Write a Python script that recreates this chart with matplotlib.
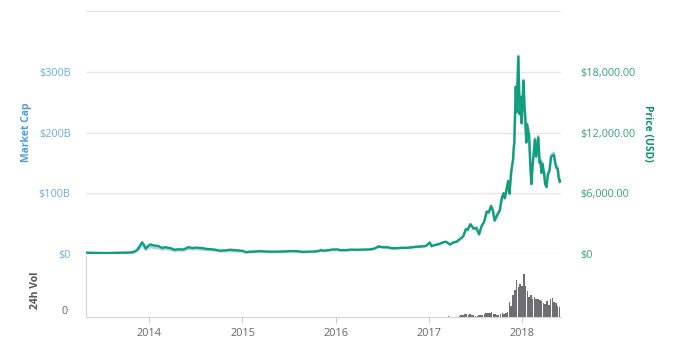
import numpy as np
import pandas as pd
import matplotlib.pyplot as plt
import matplotlib.dates as mdates

plt.rcParams['font.family'] = ['Open Sans', 'DejaVu Sans']

# Цена BTC (USD) и рыночная капитализация (млрд USD)
price_dates = [
    '2013-04-28', '2013-05-15', '2013-06-15', '2013-07-15', '2013-08-15', '2013-09-15',
    '2013-10-15', '2013-11-01', '2013-11-15', '2013-11-25', '2013-12-04', '2013-12-10',
    '2013-12-18', '2013-12-26', '2014-01-05', '2014-01-20', '2014-02-05', '2014-02-20',
    '2014-03-05', '2014-03-25', '2014-04-10', '2014-04-25', '2014-05-15', '2014-06-03',
    '2014-06-20', '2014-07-05', '2014-07-25', '2014-08-15', '2014-09-01', '2014-09-20',
    '2014-10-05', '2014-10-25', '2014-11-12', '2014-11-30', '2014-12-15', '2015-01-01',
    '2015-01-15', '2015-02-01', '2015-02-20', '2015-03-10', '2015-03-30', '2015-04-20',
    '2015-05-15', '2015-06-15', '2015-07-10', '2015-08-01', '2015-08-25', '2015-09-15',
    '2015-10-10', '2015-10-30', '2015-11-04', '2015-11-12', '2015-12-01', '2015-12-20',
    '2016-01-10', '2016-01-20', '2016-02-10', '2016-03-01', '2016-03-25', '2016-04-20',
    '2016-05-15', '2016-06-01', '2016-06-17', '2016-07-01', '2016-07-25', '2016-08-05',
    '2016-08-25', '2016-09-15', '2016-10-05', '2016-10-25', '2016-11-10', '2016-11-30',
    '2016-12-20', '2017-01-04', '2017-01-11', '2017-01-25', '2017-02-10', '2017-02-28',
    '2017-03-10', '2017-03-24', '2017-04-05', '2017-04-20', '2017-05-05', '2017-05-15',
    '2017-05-25', '2017-06-01', '2017-06-12', '2017-06-25', '2017-07-05', '2017-07-16',
    '2017-07-25', '2017-08-05', '2017-08-15', '2017-08-23', '2017-09-01', '2017-09-08',
    '2017-09-15', '2017-09-25', '2017-10-05', '2017-10-13', '2017-10-20', '2017-10-25',
    '2017-11-07', '2017-11-12', '2017-11-19', '2017-11-26', '2017-11-29', '2017-12-01',
    '2017-12-07', '2017-12-10', '2017-12-17', '2017-12-22', '2017-12-27', '2017-12-30',
    '2018-01-06', '2018-01-10', '2018-01-12', '2018-01-17', '2018-01-20', '2018-01-28',
    '2018-02-01', '2018-02-06', '2018-02-10', '2018-02-16', '2018-02-20', '2018-02-25',
    '2018-03-05', '2018-03-10', '2018-03-13', '2018-03-18', '2018-03-21', '2018-03-28',
    '2018-04-01', '2018-04-06', '2018-04-12', '2018-04-18', '2018-04-24', '2018-05-05',
    '2018-05-10', '2018-05-15', '2018-05-20', '2018-05-24', '2018-05-28', '2018-06-01',
]
price_usd = [
    135, 115, 100, 95, 110, 125,
    145, 200, 420, 800, 1150, 950,
    550, 750, 950, 830, 800, 600,
    670, 580, 420, 470, 450, 670,
    590, 630, 590, 500, 475, 410,
    330, 350, 420, 380, 340, 315,
    180, 230, 245, 290, 250, 225,
    240, 250, 290, 280, 210, 230,
    245, 320, 400, 320, 370, 440,
    450, 380, 380, 430, 415, 440,
    455, 540, 750, 680, 655, 580,
    575, 610, 610, 655, 715, 740,
    800, 1130, 780, 900, 990, 1190,
    1200, 940, 1130, 1230, 1550, 1750,
    2450, 2400, 2950, 2500, 2600, 1950,
    2700, 3200, 4200, 4100, 4750, 4300,
    3300, 3850, 4300, 5500, 6000, 5500,
    7200, 5950, 8100, 9300, 10500, 10900,
    16500, 14000, 19500, 13800, 15500, 12900,
    17100, 14500, 13900, 11000, 12800, 11700,
    9200, 6900, 8500, 10200, 11300, 9600,
    11500, 9000, 9200, 8000, 8900, 7900,
    6900, 6600, 7900, 8200, 9600, 9800,
    9000, 8500, 8400, 7500, 7100, 7200,
]
mcap_bn = [
    1.5, 1.3, 1.1, 1.1, 1.3, 1.5,
    1.7, 2.4, 5.0, 9.6, 13.9, 11.5,
    6.7, 9.1, 11.6, 10.1, 9.8, 7.4,
    8.3, 7.2, 5.2, 5.9, 5.7, 8.6,
    7.6, 8.1, 7.6, 6.5, 6.2, 5.4,
    4.4, 4.7, 5.6, 5.1, 4.6, 4.3,
    2.5, 3.2, 3.4, 4.0, 3.5, 3.2,
    3.4, 3.6, 4.2, 4.0, 3.0, 3.4,
    3.6, 4.7, 5.9, 4.7, 5.5, 6.6,
    6.8, 5.7, 5.8, 6.6, 6.4, 6.8,
    7.1, 8.4, 11.7, 10.7, 10.3, 9.1,
    9.1, 9.7, 9.7, 10.5, 11.5, 11.9,
    12.8, 18.2, 12.6, 14.5, 16.0, 19.2,
    19.4, 15.2, 18.4, 20.0, 25.3, 28.6,
    40.0, 39.2, 48.4, 41.0, 42.8, 32.1,
    44.5, 52.8, 69.4, 67.8, 78.7, 71.3,
    54.8, 64.0, 71.6, 91.7, 100.1, 91.8,
    120.3, 99.4, 135.4, 155.6, 175.7, 182.4,
    276.4, 234.6, 326.6, 231.2, 259.8, 216.3,
    287.0, 243.4, 233.4, 184.8, 215.1, 196.7,
    154.8, 116.2, 143.2, 171.9, 190.5, 161.9,
    194.2, 152.0, 155.5, 135.3, 150.6, 133.8,
    117.0, 112.0, 134.2, 139.3, 163.2, 166.8,
    153.3, 144.8, 143.2, 127.9, 121.1, 123.0,
]

# Объём торгов за 24ч (млрд USD), недельные отсчёты
vol_dates = [
    '2017-03-19', '2017-04-30', '2017-05-07', '2017-05-14', '2017-05-21', '2017-05-28',
    '2017-06-04', '2017-06-11', '2017-06-18', '2017-06-25', '2017-07-02', '2017-07-09',
    '2017-07-16', '2017-07-23', '2017-07-30', '2017-08-06', '2017-08-13', '2017-08-20',
    '2017-08-27', '2017-09-03', '2017-09-10', '2017-09-17', '2017-09-24', '2017-10-01',
    '2017-10-08', '2017-10-15', '2017-10-22', '2017-10-29', '2017-11-05', '2017-11-12',
    '2017-11-19', '2017-11-26', '2017-12-03', '2017-12-10', '2017-12-17', '2017-12-24',
    '2017-12-31', '2018-01-07', '2018-01-14', '2018-01-21', '2018-01-28', '2018-02-04',
    '2018-02-11', '2018-02-18', '2018-02-25', '2018-03-04', '2018-03-11', '2018-03-18',
    '2018-03-25', '2018-04-01', '2018-04-08', '2018-04-15', '2018-04-22', '2018-04-29',
    '2018-05-06', '2018-05-13', '2018-05-20', '2018-05-27',
]
vol_bn = [
    0.5, 0.4, 1.0, 1.3, 1.6, 1.4,
    1.2, 1.5, 1.2, 0.9, 0.8, 0.7,
    0.9, 1.0, 1.1, 1.5, 2.3, 2.0,
    2.2, 2.5, 1.6, 1.4, 1.0, 1.2,
    1.6, 2.0, 1.8, 2.2, 2.6, 8.0,
    6.0, 12.0, 14.5, 20.0, 16.0, 18.0,
    17.0, 23.0, 17.0, 14.0, 11.0, 12.0,
    10.0, 11.0, 9.5, 10.0, 9.0, 8.5,
    7.5, 7.0, 8.5, 6.5, 10.0, 10.5,
    8.0, 7.5, 6.0, 5.5,
]

years = ['2014', '2015', '2016', '2017', '2018']

green = '#119e7b'
blue = '#a9d2ee'

pdates = pd.to_datetime(price_dates)
vdates = pd.to_datetime(vol_dates)
xmin, xmax = pd.Timestamp('2013-04-28'), pd.Timestamp('2018-06-02')

fig = plt.figure(figsize=(7, 3.53), dpi=100)

# Основной график: капитализация (слева) и цена (справа)
ax = fig.add_axes([86 / 700, 99 / 353, 475 / 700, 243 / 353])
ax2 = ax.twinx()

ax.plot(pdates, mcap_bn, color=blue, lw=1.8, zorder=2)
ax.set_ylim(0, 400)
ax.set_yticks([0, 100, 200, 300, 400])
ax.set_yticklabels(['$0', '$100B', '$200B', '$300B', ''])
ax.grid(axis='y', color='#e6e6e6', lw=1)
ax.set_axisbelow(True)

ax2.plot(pdates, price_usd, color=green, lw=1.7, zorder=3)
ax2.set_ylim(0, 24000)
ax2.set_yticks([0, 6000, 12000, 18000, 24000])
ax2.set_yticklabels(['$0', '$6,000.00', '$12,000.00', '$18,000.00', ''])

for a in (ax, ax2):
    a.set_xlim(xmin, xmax)
    for s in a.spines.values():
        s.set_visible(False)
    a.tick_params(axis='x', bottom=False, labelbottom=False)
    a.tick_params(axis='y', length=0, labelsize=7.8)

ax.tick_params(axis='y', pad=11, labelcolor='#6badde')
ax2.tick_params(axis='y', pad=14, labelcolor='#36a083')

fig.text(26 / 700, 1 - 132 / 353, 'Market Cap', rotation=90, color='#4a9edc',
         fontsize=7.5, fontweight='bold', ha='center', va='center')
fig.text(648 / 700, 1 - 133 / 353, 'Price (USD)', rotation=270, color='#0e8f6b',
         fontsize=7.5, fontweight='bold', ha='center', va='center')

# Панель объёма
axv = fig.add_axes([86 / 700, 36 / 353, 475 / 700, 61 / 353])
axv.bar(vdates, vol_bn, width=6, color='#6f6e72', align='center')
axv.set_xlim(xmin, xmax)
axv.set_ylim(0, 33)
axv.set_yticks([0])
axv.set_yticklabels(['0'], va='bottom')
axv.tick_params(axis='y', length=0, pad=13, labelsize=7.8, labelcolor='#666666')
axv.set_xticks(pd.to_datetime([y + '-01-01' for y in years]))
axv.set_xticklabels(years)
axv.tick_params(axis='x', length=4, color='#cccccc', labelsize=7.8,
                labelcolor='#666666', pad=4)
for s in ('top', 'right'):
    axv.spines[s].set_visible(False)
for s in ('left', 'bottom'):
    axv.spines[s].set_color('#d4d4d4')
fig.text(35 / 700, 1 - 290 / 353, '24h Vol', rotation=90, color='#555555',
         fontsize=7.5, fontweight='bold', ha='center', va='center')

fig.savefig('out.png', dpi=100, facecolor='white')
